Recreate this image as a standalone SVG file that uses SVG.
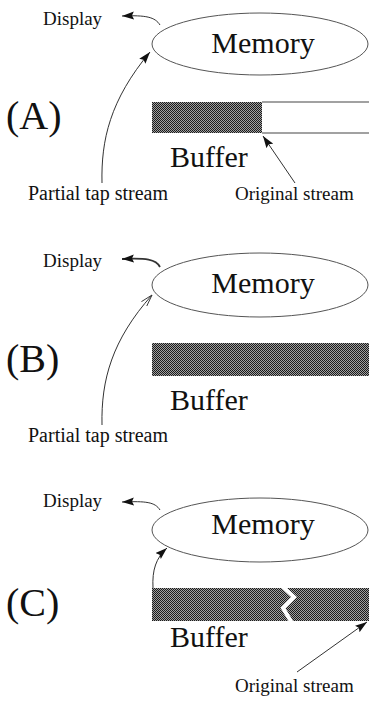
<svg xmlns="http://www.w3.org/2000/svg" width="369" height="704" viewBox="0 0 369 704">
  <style>
    text { font-family: "Liberation Serif", "Times New Roman", serif; fill: #111; }
    .lbl { font-size: 19px; }
    .tap { font-size: 20px; }
    .big { font-size: 30px; }
    .tag { font-size: 40px; }
    .mem { fill: #fff; stroke: #555; stroke-width: 1; }
    .conn { fill: none; stroke: #333; stroke-width: 1; }
    .edge { stroke: #444; stroke-width: 1.2; }
  </style>
  <defs>
    <pattern id="dither" width="2" height="2" patternUnits="userSpaceOnUse">
      <rect width="2" height="2" fill="#a0a0a0"/>
      <rect width="1" height="1" fill="#1a1a1a"/>
      <rect x="1" y="1" width="1" height="1" fill="#1a1a1a"/>
    </pattern>
    <marker id="head" markerUnits="userSpaceOnUse" markerWidth="13" markerHeight="9" refX="12" refY="4" orient="auto">
      <path d="M0,0 L12,4 L0,8 L2,4 z" fill="#111"/>
    </marker>
    <marker id="headOpen" markerUnits="userSpaceOnUse" markerWidth="13" markerHeight="9" refX="12" refY="4" orient="auto">
      <path d="M0,0.5 L12,4 L0,7.5" fill="none" stroke="#333" stroke-width="0.9"/>
    </marker>
  </defs>

  <!-- Panel A -->
  <g id="labelA"><text class="tag" x="6" y="129">(A)</text></g>
  <g id="memoryA">
    <ellipse class="mem" cx="260" cy="44" rx="108" ry="31"/>
    <text class="big" x="263" y="53" text-anchor="middle">Memory</text>
  </g>
  <g id="displayA"><text class="lbl" x="43" y="25">Display</text></g>
  <g id="bufferA">
    <rect x="152" y="102" width="110" height="31" fill="url(#dither)"/>
    <line class="edge" x1="262" y1="102" x2="369" y2="102"/>
    <line class="edge" x1="262" y1="133" x2="369" y2="133"/>
    <text class="big" x="170" y="167">Buffer</text>
  </g>
  <g id="tapA"><text class="tap" x="28" y="200">Partial tap stream</text></g>
  <g id="origA"><text class="lbl" x="235" y="200">Original stream</text></g>

  <!-- Panel B -->
  <g id="labelB"><text class="tag" x="6" y="372">(B)</text></g>
  <g id="memoryB">
    <ellipse class="mem" cx="260" cy="285" rx="108" ry="32"/>
    <text class="big" x="263" y="293" text-anchor="middle">Memory</text>
  </g>
  <g id="displayB"><text class="lbl" x="43" y="267">Display</text></g>
  <g id="bufferB">
    <rect x="152" y="343" width="217" height="33" fill="url(#dither)"/>
    <text class="big" x="170" y="410">Buffer</text>
  </g>
  <g id="tapB"><text class="tap" x="28" y="442">Partial tap stream</text></g>

  <!-- Panel C -->
  <g id="labelC"><text class="tag" x="6" y="616">(C)</text></g>
  <g id="memoryC">
    <ellipse class="mem" cx="260" cy="530" rx="108" ry="32"/>
    <text class="big" x="263" y="534" text-anchor="middle">Memory</text>
  </g>
  <g id="displayC"><text class="lbl" x="43" y="507">Display</text></g>
  <g id="bufferC">
    <rect x="152" y="588" width="217" height="33" fill="url(#dither)"/>
    <!-- break in the filled buffer -->
    <polyline points="282,586 294,597 283,608 292,623" fill="none" stroke="#fff" stroke-width="4" stroke-linejoin="miter"/>
    <text class="big" x="170" y="647">Buffer</text>
  </g>
  <g id="origC"><text class="lbl" x="235" y="692">Original stream</text></g>

  <!-- Connectors -->
  <g id="connectors">
    <path class="conn" d="M160,25 C155,17 146,15 122,16" marker-end="url(#head)"/>
    <path class="conn" d="M102,183 C101,140 110,100 150,52" marker-end="url(#head)"/>
    <path class="conn" d="M295,183 L263,136" marker-end="url(#head)"/>

    <path class="conn" style="stroke-width:1.8" d="M160,267 C156,259 146,258 122,259" marker-end="url(#head)"/>
    <path class="conn" d="M102,425 C101,380 112,340 152,295" marker-end="url(#headOpen)"/>

    <path class="conn" d="M160,510 C155,502 146,501 122,502" marker-end="url(#head)"/>
    <path class="conn" d="M153,588 C152,570 156,558 167,548" marker-end="url(#head)"/>
    <path class="conn" d="M297,672 L367,622" marker-end="url(#head)"/>
  </g>
</svg>
